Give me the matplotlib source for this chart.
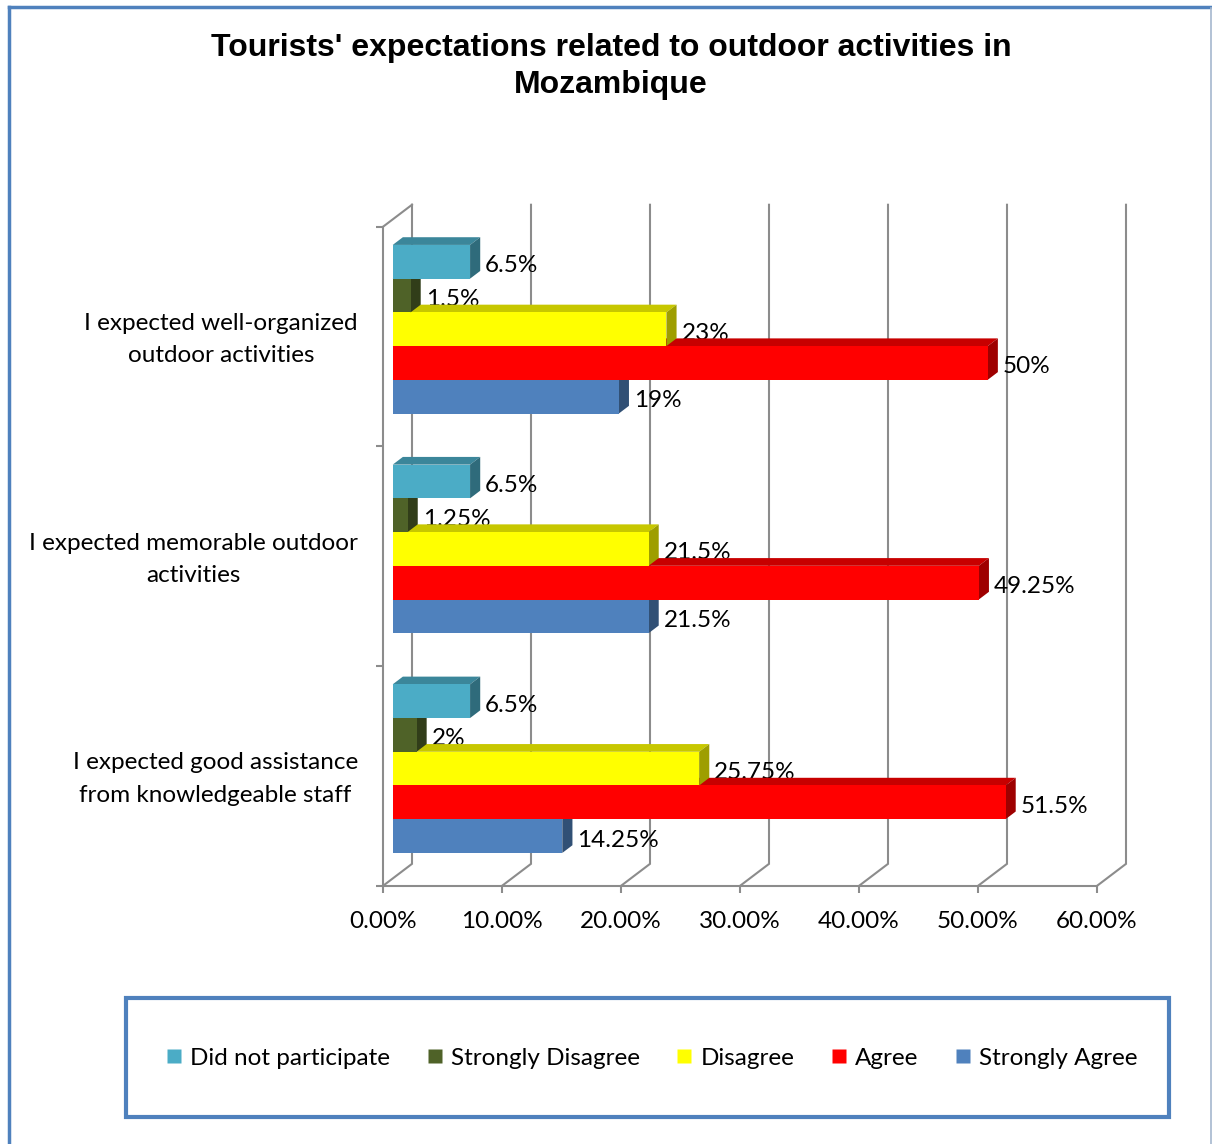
import numpy as np
import matplotlib
matplotlib.use("Agg")
import matplotlib.pyplot as plt
from matplotlib.patches import Polygon, Rectangle
from matplotlib.lines import Line2D
from matplotlib.colors import to_rgb

# ---------------------------------------------------------------
# Data (groups bottom to top, series bottom to top inside a group)
# ---------------------------------------------------------------
categories = ["I expected good assistance\nfrom knowledgeable staff",
              "I expected memorable outdoor\nactivities",
              "I expected well-organized\noutdoor activities"]
series_names = ["Strongly Agree", "Agree", "Disagree",
                "Strongly Disagree", "Did not participate"]
strongly_agree = [14.25, 21.5, 19]
agree = [51.5, 49.25, 50]
disagree = [25.75, 21.5, 23]
strongly_disagree = [2, 1.25, 1.5]
did_not_participate = [6.5, 6.5, 6.5]
series_values = [strongly_agree, agree, disagree,
                 strongly_disagree, did_not_participate]
series_colors = ["#4F81BD", "#FF0000", "#FFFF00", "#4F6228", "#4BACC6"]
x_ticks = [0, 10, 20, 30, 40, 50, 60]

title = "Tourists' expectations related to outdoor activities in\nMozambique"

# ---------------------------------------------------------------
# Layout (pixels of the 1212 x 1144 canvas)
# ---------------------------------------------------------------
W, H = 1212, 1144
PX_X = 11.9        # pixels per percent
X0 = 383           # pixel of 0 % on the front axis
PX_Y = 219.7       # pixels per category
Y0 = 776           # pixel of the first category centre
DEPTH_X = 29 / PX_X    # wall depth, in data units
DEPTH_Y = 22 / PX_Y
BAR_D0, BAR_D1 = 0.335, 0.685   # bar depth inside the wall
BAR_H = 0.1535
GRID = "#8C8C8C"
BLUE = "#4F81BD"
FONT = "Lato"
FS = 17.5


def shade(c, f):
    r, g, b = to_rgb(c)
    return (r * f, g * f, b * f)


fig = plt.figure(figsize=(W / 100, H / 100), dpi=100)
xlim = (-2.5, 64.5)
ylim = (-0.75, 2.75)
left_px = X0 + xlim[0] * PX_X
right_px = X0 + xlim[1] * PX_X
bot_px = Y0 - ylim[0] * PX_Y
top_px = Y0 - ylim[1] * PX_Y
ax = fig.add_axes([left_px / W, 1 - bot_px / H,
                   (right_px - left_px) / W, (bot_px - top_px) / H])
ax.set_xlim(xlim)
ax.set_ylim(ylim)
ax.patch.set_visible(False)

# axes as spines placed on the front edges of the walls
for s in ["top", "right"]:
    ax.spines[s].set_visible(False)
ax.spines["bottom"].set_position(("data", -0.5))
ax.spines["bottom"].set_bounds(0, 60)
ax.spines["left"].set_position(("data", 0))
ax.spines["left"].set_bounds(-0.5, 2.5)
for s in ["bottom", "left"]:
    ax.spines[s].set_color(GRID)
    ax.spines[s].set_linewidth(1.5)

ax.set_xticks(x_ticks)
ax.set_xticklabels([f"{t:.2f}%" for t in x_ticks], fontsize=FS, family=FONT)
ax.tick_params(axis="x", length=5, width=1.5, color=GRID, pad=13)
ax.set_yticks([-0.5, 0.5, 1.5, 2.5])
ax.set_yticklabels([])
ax.tick_params(axis="y", length=5, width=1.5, color=GRID)

# category names, centred on each group at the front of the left wall
for i, cat in enumerate(categories):
    ax.annotate(cat, xy=(0, i), xytext=(-25, -3), textcoords="offset pixels",
                ha="right", va="center", multialignment="center",
                fontsize=FS, family=FONT, linespacing=1.66)

# back wall gridlines with their floor diagonals
for t in x_ticks:
    ax.plot([t, t + DEPTH_X, t + DEPTH_X],
            [-0.5, -0.5 + DEPTH_Y, 2.5 + DEPTH_Y],
            color=GRID, lw=1.5, zorder=1, solid_joinstyle="miter")
ax.plot([0, DEPTH_X], [2.5, 2.5 + DEPTH_Y], color=GRID, lw=1.5, zorder=1)

# 3D-looking bars
bx = (BAR_D1 - BAR_D0) * DEPTH_X
by = (BAR_D1 - BAR_D0) * DEPTH_Y
x_front = BAR_D0 * DEPTH_X
z = 3
for i in range(len(categories)):
    centre = i + BAR_D0 * DEPTH_Y
    for j, (vals, col) in enumerate(zip(series_values, series_colors)):
        v = vals[i]
        yb = centre - 2.5 * BAR_H + j * BAR_H
        yt = yb + BAR_H
        x1 = x_front + v
        front = Rectangle((x_front, yb), v, BAR_H, facecolor=col,
                          edgecolor="none", zorder=z)
        top = Polygon([(x_front, yt), (x1, yt), (x1 + bx, yt + by),
                       (x_front + bx, yt + by)], closed=True,
                      facecolor=shade(col, 0.78), edgecolor="none", zorder=z)
        side = Polygon([(x1, yb), (x1 + bx, yb + by), (x1 + bx, yt + by),
                        (x1, yt)], closed=True,
                       facecolor=shade(col, 0.62), edgecolor="none", zorder=z)
        for p in (top, side, front):
            ax.add_patch(p)
        z += 1
        ax.text(x1 + bx + 5 / PX_X, yb + BAR_H / 2 - 4 / PX_Y, f"{v:g}%",
                ha="left", va="center", fontsize=FS, family=FONT, zorder=2)

# title
fig.text(611 / W, 1 - 66.5 / H, title, ha="center", va="center",
         fontsize=23, fontweight="bold", family="Liberation Sans",
         linespacing=1.33)

# legend inside its own box
handles = [Line2D([], [], marker="s", linestyle="none", markersize=10,
                  markerfacecolor=series_colors[k], markeredgecolor="none")
           for k in range(4, -1, -1)]
labels = [series_names[k] for k in range(4, -1, -1)]
fig.add_artist(Rectangle((126 / W, 1 - 1117 / H), (1169 - 126) / W,
                         (1117 - 998) / H, transform=fig.transFigure,
                         fill=False, edgecolor=BLUE, lw=3))
fig.legend(handles, labels, loc="center",
           bbox_to_anchor=((126 + 1169) / 2 / W + 4 / W, 1 - 1058 / H),
           ncol=5, frameon=False, handlelength=0.7, handletextpad=0.3,
           columnspacing=1.5, prop={"family": FONT, "size": FS})

# outer chart border
fig.add_artist(Line2D([9 / W, 9 / W], [0, 1 - 7 / H], color=BLUE, lw=2.5,
                      transform=fig.transFigure))
fig.add_artist(Line2D([9 / W, 1], [1 - 7 / H, 1 - 7 / H], color=BLUE, lw=2.5,
                      transform=fig.transFigure))
fig.add_artist(Line2D([1210.5 / W, 1210.5 / W], [0, 1 - 8 / H],
                      color="#A6B8CE", lw=1.2, transform=fig.transFigure))

fig.savefig("out.png", dpi=100)
